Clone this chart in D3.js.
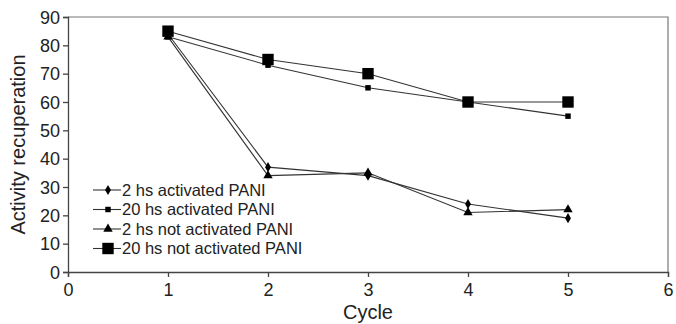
<!DOCTYPE html>
<html>
<head>
<meta charset="utf-8">
<script src="https://cdn.jsdelivr.net/npm/d3@7"></script>
<style>
  body { margin: 0; background: #fff; }
  text { font-family: "Liberation Sans", Arial, sans-serif; fill: #222; }
</style>
</head>
<body>
<div id="chart"></div>
<script>
const cycles = [1, 2, 3, 4, 5];
const act2h = [84, 37, 34, 24, 19];
const act20h = [83, 73, 65, 60, 55];
const notAct2h = [83, 34, 35, 21, 22];
const notAct20h = [85, 75, 70, 60, 60];
const xTicks = [0, 1, 2, 3, 4, 5, 6];
const yTicks = [0, 10, 20, 30, 40, 50, 60, 70, 80, 90];

const series = [
  { name: "2 hs activated PANI", values: act2h, sym: d3.symbolDiamond, size: 30 },
  { name: "20 hs activated PANI", values: act20h, sym: d3.symbolSquare, size: 30 },
  { name: "2 hs not activated PANI", values: notAct2h, sym: d3.symbolTriangle, size: 38 },
  { name: "20 hs not activated PANI", values: notAct20h, sym: d3.symbolSquare, size: 130 }
];

const width = 676, height = 324;
const margin = { left: 68, right: 8, top: 17, bottom: 52 };
const w = width - margin.left - margin.right;
const h = height - margin.top - margin.bottom;

const svg = d3.select("#chart").append("svg")
  .attr("width", width).attr("height", height);
const g = svg.append("g")
  .attr("transform", `translate(${margin.left},${margin.top})`);

const x = d3.scaleLinear().domain([0, 6]).range([0, w]);
const y = d3.scaleLinear().domain([0, 90]).range([h, 0]);

// frame (top / right)
g.append("path")
  .attr("d", `M0,0H${w}V${h}`)
  .attr("fill", "none")
  .attr("stroke", "#777")
  .attr("stroke-width", 1.2);

const xAxis = g.append("g")
  .attr("transform", `translate(0,${h})`)
  .call(d3.axisBottom(x).tickValues(xTicks).tickSize(5).tickPadding(6).tickFormat(d3.format("d")));
xAxis.selectAll("text").style("font-size", "18px");

const yAxis = g.append("g")
  .call(d3.axisLeft(y).tickValues(yTicks).tickSize(5).tickPadding(3).tickFormat(d3.format("d")));
yAxis.selectAll("text").style("font-size", "18px").attr("dy", "0.35em");

g.selectAll(".domain, .tick line").attr("stroke", "#444").attr("stroke-width", 1.3);

const line = d3.line()
  .x((d, i) => x(cycles[i]))
  .y(d => y(d));

series.forEach(s => {
  g.append("path")
    .datum(s.values)
    .attr("d", line)
    .attr("fill", "none")
    .attr("stroke", "#333")
    .attr("stroke-width", 1.1);

  g.selectAll(null)
    .data(s.values)
    .join("path")
    .attr("transform", (d, i) => `translate(${x(cycles[i])},${y(d)})`)
    .attr("d", d3.symbol().type(s.sym).size(s.size))
    .attr("fill", "#000");
});

// legend
const legend = g.append("g").attr("transform", "translate(25,173)");
series.forEach((s, i) => {
  const row = legend.append("g").attr("transform", `translate(0,${i * 19.5})`);
  row.append("line")
    .attr("x1", 0).attr("x2", 28)
    .attr("stroke", "#333").attr("stroke-width", 1.1);
  row.append("path")
    .attr("transform", "translate(15,0)")
    .attr("d", d3.symbol().type(s.sym).size(s.size))
    .attr("fill", "#000");
  row.append("text")
    .attr("x", 29).attr("dy", "0.35em")
    .style("font-size", "16.5px")
    .text(s.name);
});

// axis titles
svg.append("text")
  .attr("x", margin.left + w / 2).attr("y", 319)
  .attr("text-anchor", "middle")
  .style("font-size", "20px")
  .text("Cycle");

svg.append("text")
  .attr("transform", `translate(25,${margin.top + h / 2}) rotate(-90)`)
  .attr("text-anchor", "middle")
  .style("font-size", "20px")
  .text("Activity recuperation");
</script>
</body>
</html>
